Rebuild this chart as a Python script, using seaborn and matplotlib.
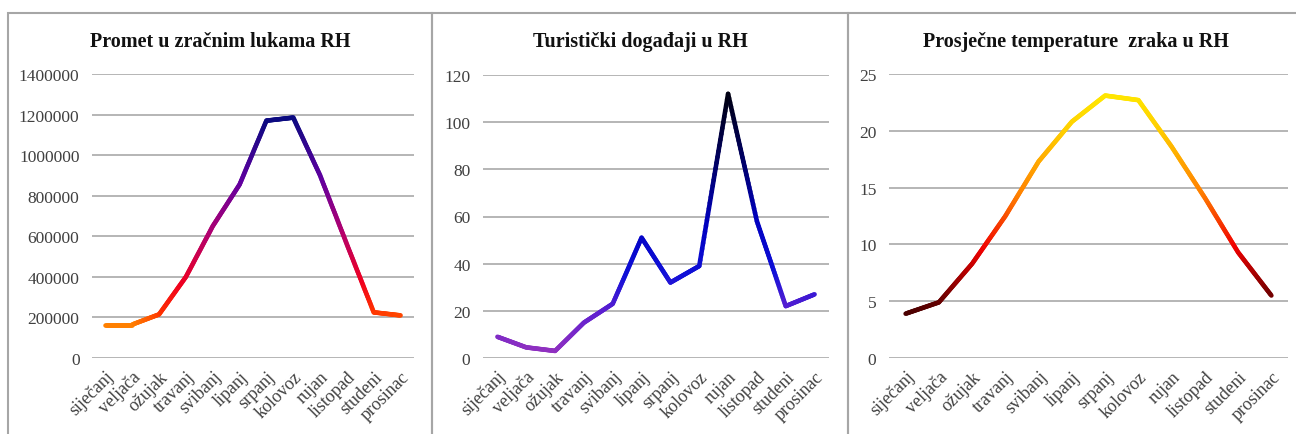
import numpy as np
import pandas as pd
import seaborn as sns
import matplotlib
matplotlib.use("Agg")
import matplotlib.pyplot as plt
from matplotlib.collections import LineCollection
from matplotlib.colors import LinearSegmentedColormap, Normalize
from matplotlib.patches import Rectangle

months = ["siječanj", "veljača", "ožujak", "travanj", "svibanj", "lipanj",
          "srpanj", "kolovoz", "rujan", "listopad", "studeni", "prosinac"]

airport_traffic = [165000, 165000, 215000, 400000, 650000, 855000,
                   1170000, 1185000, 900000, 560000, 225000, 210000]
tourist_events = [9, 4.5, 3, 15, 23, 51, 32, 39, 112, 58, 22, 27]
air_temperature = [3.9, 4.9, 8.3, 12.5, 17.3, 20.8, 23.1, 22.7, 18.6, 14.1, 9.3, 5.5]

titles = ["Promet u zračnim lukama RH", "Turistički događaji u RH",
          "Prosječne temperature  zraka u RH"]
yticks_list = [np.arange(0, 1400001, 200000), np.arange(0, 121, 20), np.arange(0, 26, 5)]

cmaps = [
    LinearSegmentedColormap.from_list("c1", [(0, "#ff8000"), (0.06, "#ff3000"), (0.2, "#f00020"),
                                             (0.45, "#b00070"), (0.7, "#6000a0"), (1.0, "#0a0a80")]),
    LinearSegmentedColormap.from_list("c2", [(0, "#9030c0"), (0.15, "#6020d0"), (0.3, "#1010d8"),
                                             (0.5, "#0000c0"), (0.75, "#000060"), (1.0, "#000010")]),
    LinearSegmentedColormap.from_list("c3", [(0, "#4a0000"), (0.08, "#700000"), (0.3, "#f00000"),
                                             (0.55, "#ff8000"), (0.85, "#ffd000"), (1.0, "#ffe600")]),
]

sns.set_theme(style="white")
plt.rcParams["font.family"] = ["Liberation Serif", "DejaVu Serif"]

W, H = 1296, 435
fig = plt.figure(figsize=(W / 100, H / 100), dpi=100)

# axes boxes in pixels: left, right, top(y of max), bottom(y of 0)
boxes = [(92, 414, 75, 359), (483, 829, 76, 359), (889, 1288, 75, 359)]
frames = [(8, 432), (432, 848), (848, 1300)]
title_x = [220, 640, 1076]

for i, (vals, title, yt, cmap) in enumerate(zip(
        [airport_traffic, tourist_events, air_temperature], titles, yticks_list, cmaps)):
    l, r, t, b = boxes[i]
    ax = fig.add_axes([l / W, 1 - b / H, (r - l) / W, (b - t) / H])
    df = pd.DataFrame({"mjesec": months, "vrijednost": vals})
    sns.lineplot(data=df, x="mjesec", y="vrijednost", ax=ax, sort=False, lw=3)
    base = ax.lines[0]
    xy = base.get_xydata().astype(float)
    base.set_visible(False)
    # gradient colouring of the same line
    segs, cols = [], []
    norm = Normalize(min(vals), max(vals))
    n = 30
    for k in range(len(xy) - 1):
        p0, p1 = xy[k], xy[k + 1]
        ts = np.linspace(0, 1, n + 1)
        pts = p0[None, :] + (p1 - p0)[None, :] * ts[:, None]
        for j in range(n):
            segs.append([pts[j], pts[j + 1]])
            cols.append(cmap(norm((pts[j, 1] + pts[j + 1, 1]) / 2)))
    lc = LineCollection(segs, colors=cols, linewidths=3.3, capstyle="round", joinstyle="round", zorder=3)
    ax.add_collection(lc)

    ax.set_xlim(-0.5, len(months) - 0.5)
    ax.set_ylim(yt[0], yt[-1])
    ax.set_yticks(yt)
    ax.set_yticklabels([str(v) for v in yt], fontsize=12.5, color="#404040")
    ax.set_xticks(range(len(months)))
    ax.set_xticklabels(months, rotation=45, ha="right", rotation_mode="anchor",
                       fontsize=13, color="#404040")
    ax.tick_params(axis="x", length=0, pad=7)
    ax.tick_params(axis="y", length=0, pad=9)
    ax.set_xlabel("")
    ax.set_ylabel("")
    ax.yaxis.grid(True, color="#b5b5b5", lw=1.4)
    ax.set_axisbelow(True)
    for s in ax.spines.values():
        s.set_visible(False)
    ax.patch.set_alpha(0)
    fig.text(title_x[i] / W, 1 - 42 / H, title, ha="center", va="center",
             fontsize=14.5, fontweight="bold", color="#111111")

for (x0, x1) in frames:
    fig.patches.append(Rectangle((x0 / W, -0.1), (x1 - x0) / W, 1.1 - 14 / H,
                                 transform=fig.transFigure, fill=False,
                                 edgecolor="#a6a6a6", lw=1.5, zorder=0))

fig.savefig("out.png", dpi=100)
